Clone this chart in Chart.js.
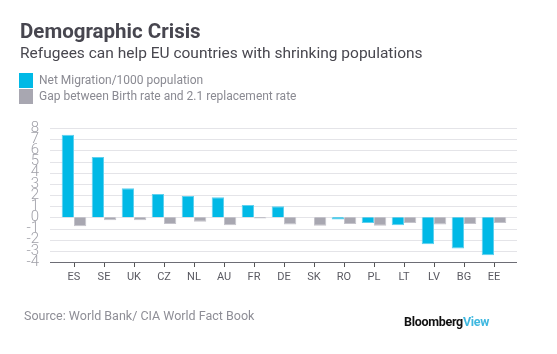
<!DOCTYPE html>
<html>
<head>
<meta charset="utf-8">
<script src="https://cdn.jsdelivr.net/npm/chart.js@4"></script>
<style>
  body { margin: 0; background: #fff; font-family: Roboto, "Noto Sans", sans-serif; }
  #wrap { position: relative; width: 557px; height: 354px; overflow: hidden; }
  #chartBox { position: absolute; left: 0; top: 0; width: 557px; height: 354px; }
  .title { position: absolute; left: 20px; top: 19px; font-size: 20.5px; font-weight: bold; color: #47464f; }
  .sub { position: absolute; left: 20px; top: 44px; font-size: 15.5px; color: #48474f; }
  .leg { position: absolute; left: 19px; font-size: 12px; color: #8a8a92; }
  .leg span { display: inline-block; width: 14px; height: 15px; vertical-align: middle; margin-right: 6px; }
  .src { position: absolute; left: 24px; top: 308px; font-size: 12.5px; color: #8e8e96; }
  .brand { position: absolute; left: 404px; top: 314px; font-size: 12.5px; font-weight: bold; color: #111; letter-spacing: -0.3px; }
  .brand b { color: #3fb8e0; font-weight: bold; }
</style>
</head>
<body>
<div id="wrap">
  <div id="chartBox"><canvas id="myChart"></canvas></div>
  <div class="title">Demographic Crisis</div>
  <div class="sub">Refugees can help EU countries with shrinking populations</div>
  <div class="leg" style="top:73px"><span style="background:#00b9e6"></span>Net Migration/1000 population</div>
  <div class="leg" style="top:89px"><span style="background:#a8a7b1"></span>Gap between Birth rate and 2.1 replacement rate</div>
  <div class="src">Source: World Bank/ CIA World Fact Book</div>
  <div class="brand">Bloomberg<b>View</b></div>
</div>
<script>
const countries = ['ES', 'SE', 'UK', 'CZ', 'NL', 'AU', 'FR', 'DE', 'SK', 'RO', 'PL', 'LT', 'LV', 'BG', 'EE'];
const netMigration = [7.4, 5.4, 2.6, 2.1, 1.9, 1.8, 1.1, 1.0, 0, -0.2, -0.5, -0.7, -2.4, -2.8, -3.4];
const birthGap = [-0.8, -0.25, -0.25, -0.6, -0.4, -0.7, -0.1, -0.65, -0.75, -0.6, -0.75, -0.5, -0.65, -0.6, -0.5];
const yTicks = [8, 7, 6, 5, 4, 3, 2, 1, 0, -1, -2, -3, -4];

document.addEventListener("DOMContentLoaded", function () {
    const ctx = document.getElementById('myChart').getContext('2d');

    // gridlines run a little wider than the bars
    const wideGrid = {
        id: 'wideGrid',
        beforeDatasetsDraw(chart) {
            const c = chart.ctx;
            const y = chart.scales.y;
            const a = chart.chartArea;
            c.save();
            yTicks.forEach(function (v) {
                const py = Math.round(y.getPixelForValue(v)) + 0.5;
                c.strokeStyle = v === -4 ? '#6d6d75' : '#e4e4e8';
                c.lineWidth = 1;
                c.beginPath();
                c.moveTo(a.left - 9, py);
                c.lineTo(a.right + 8, py);
                c.stroke();
            });
            c.restore();
        }
    };

    new Chart(ctx, {
        type: 'bar',
        data: {
            labels: countries,
            datasets: [{
                label: 'Net Migration/1000 population',
                data: netMigration,
                backgroundColor: '#00b9e6',
                borderColor: '#5fd0ee',
                borderWidth: 1,
                categoryPercentage: 0.82,
                barPercentage: 1
            }, {
                label: 'Gap between Birth rate and 2.1 replacement rate',
                data: birthGap,
                backgroundColor: '#a8a7b1',
                borderColor: '#c4c3cb',
                borderWidth: 1,
                categoryPercentage: 0.82,
                barPercentage: 1
            }]
        },
        options: {
            responsive: true,
            maintainAspectRatio: false,
            animation: false,
            layout: { padding: { left: 0, right: 48, top: 128, bottom: 62 } },
            plugins: {
                legend: { display: false },
                title: { display: false },
                tooltip: { enabled: false }
            },
            scales: {
                y: {
                    min: -4,
                    max: 8,
                    afterFit: function (s) { s.width = 59; },
                    afterBuildTicks: function (s) { s.ticks = yTicks.map(v => ({ value: v })); },
                    grid: { display: false },
                    border: { display: false },
                    ticks: {
                        autoSkip: false,
                        padding: 12,
                        color: '#a0a0a8',
                        font: { family: 'Roboto', size: 15, weight: '300' }
                    }
                },
                x: {
                    afterFit: function (s) { s.height = 30; },
                    grid: {
                        display: true,
                        offset: false,
                        drawOnChartArea: false,
                        drawTicks: true,
                        tickLength: 5,
                        color: '#555'
                    },
                    border: { display: false },
                    ticks: {
                        padding: 4,
                        color: '#5a5a62',
                        font: { family: 'Roboto', size: 11 }
                    }
                }
            }
        },
        plugins: [wideGrid]
    });
});
</script>
</body>
</html>
